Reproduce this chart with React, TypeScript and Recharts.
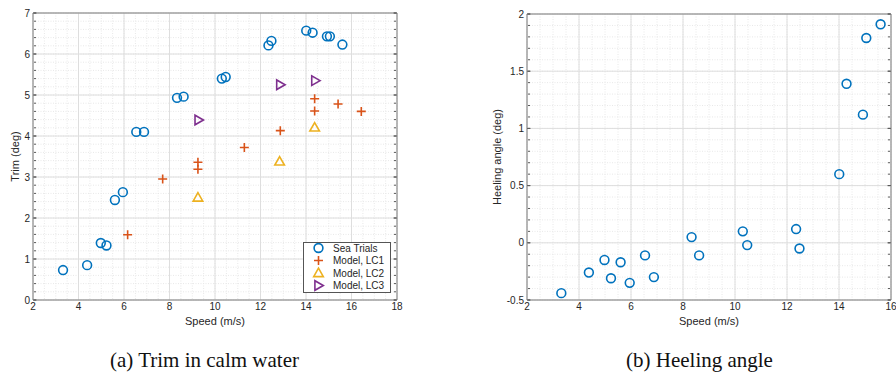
import React from 'react';
import { ScatterChart, Scatter, XAxis, YAxis, CartesianGrid } from 'recharts';

// MATLAB default palette
const BLUE = '#0072BD';
const ORANGE = '#D95319';
const YELLOW = '#EDB120';
const PURPLE = '#7E2F8E';

// sea trial runs (same speeds used in both panels)
const seaSpeed = [3.32, 4.38, 4.98, 5.23, 5.6, 5.95, 6.54, 6.88, 8.33, 8.62, 10.3, 10.47, 12.35, 12.48, 14.01, 14.29, 14.92, 15.05, 15.6];
const seaTrim = [0.73, 0.85, 1.39, 1.33, 2.44, 2.63, 4.1, 4.1, 4.93, 4.96, 5.4, 5.44, 6.21, 6.32, 6.57, 6.52, 6.43, 6.43, 6.23];
const seaHeel = [-0.44, -0.26, -0.15, -0.31, -0.17, -0.35, -0.11, -0.3, 0.05, -0.11, 0.1, -0.02, 0.12, -0.05, 0.6, 1.39, 1.12, 1.79, 1.91];

// model runs, trim only
const lc1Speed = [6.16, 7.7, 9.25, 9.25, 11.29, 12.87, 14.38, 14.38, 15.41, 16.43];
const lc1Trim = [1.59, 2.95, 3.36, 3.19, 3.72, 4.13, 4.91, 4.61, 4.78, 4.6];
const lc2Speed = [9.25, 12.84, 14.38];
const lc2Trim = [2.5, 3.38, 4.21];
const lc3Speed = [9.28, 12.87, 14.41];
const lc3Trim = [4.39, 5.25, 5.35];

// tick labels
const trimXTicks = [2, 4, 6, 8, 10, 12, 14, 16, 18];
const trimYTicks = [0, 1, 2, 3, 4, 5, 6, 7];
const heelXTicks = [2, 4, 6, 8, 10, 12, 14, 16];
const heelYTicks = [-0.5, 0, 0.5, 1, 1.5, 2];

// minor grid positions
const range = (a: number, b: number, d: number) => {
  const out: number[] = [];
  for (let i = 0; a + i * d <= b + 1e-9; i++) out.push(+(a + i * d).toFixed(4));
  return out;
};
const trimXMinor = range(2, 18, 0.5);
const trimYMinor = range(0, 7, 0.2);
const heelXMinor = range(2, 16, 0.5);
const heelYMinor = range(-0.5, 2, 0.1);

const zip = (xs: number[], ys: number[], key: string) => xs.map((x, i) => ({ speed: x, [key]: ys[i] }));

const FONT = '"Liberation Sans", Arial, Helvetica, sans-serif';
const INK = '#262626';
const EDGE = { stroke: '#808080', strokeWidth: 1 };
const TICK = { stroke: '#5a5a5a', strokeWidth: 1 };
const tickFont = { fontSize: 10, fill: INK, fontFamily: FONT };
const titleFont = { fontSize: 11, fill: INK, fontFamily: FONT };
const noLabel = () => <g />;

const Ring = ({ cx, cy }: any) => <circle cx={cx} cy={cy} r={4.4} fill="none" stroke={BLUE} strokeWidth={1.6} />;
const Plus = ({ cx, cy }: any) => (
  <path d={`M${cx - 4.5},${cy}H${cx + 4.5}M${cx},${cy - 4.5}V${cy + 4.5}`} stroke={ORANGE} strokeWidth={1.6} fill="none" />
);
const TriUp = ({ cx, cy }: any) => (
  <path d={`M${cx},${cy - 4.8}L${cx + 4.8},${cy + 3.6}L${cx - 4.8},${cy + 3.6}Z`} stroke={YELLOW} strokeWidth={1.6} fill="none" />
);
const TriRight = ({ cx, cy }: any) => (
  <path d={`M${cx + 4.8},${cy}L${cx - 3.6},${cy + 4.8}L${cx - 3.6},${cy - 4.8}Z`} stroke={PURPLE} strokeWidth={1.6} fill="none" />
);

// inward tick marks on all four sides + top/right box edges, MATLAB style
// (tick={false} stops the axis drawing at all, so labels are replaced by an empty group)
function frameAxes(xDom: number[], yDom: number[], xMaj: number[], xMin: number[], yMaj: number[], yMin: number[]) {
  const base = { type: 'number' as const, allowDataOverflow: true, interval: 0 as const, tick: noLabel, mirror: true, tickLine: TICK };
  return [
    <XAxis key="bM" xAxisId="bM" orientation="bottom" height={1} domain={xDom} ticks={xMaj} tickSize={3.5} axisLine={false} {...base} />,
    <XAxis key="bm" xAxisId="bm" orientation="bottom" height={1} domain={xDom} ticks={xMin} tickSize={2} axisLine={false} {...base} />,
    <XAxis key="tM" xAxisId="tM" orientation="top" height={1} domain={xDom} ticks={xMaj} tickSize={3.5} axisLine={EDGE} {...base} />,
    <XAxis key="tm" xAxisId="tm" orientation="top" height={1} domain={xDom} ticks={xMin} tickSize={2} axisLine={false} {...base} />,
    <YAxis key="lM" yAxisId="lM" orientation="left" width={1} domain={yDom} ticks={yMaj} tickSize={3.5} axisLine={false} {...base} />,
    <YAxis key="lm" yAxisId="lm" orientation="left" width={1} domain={yDom} ticks={yMin} tickSize={2} axisLine={false} {...base} />,
    <YAxis key="rM" yAxisId="rM" orientation="right" width={1} domain={yDom} ticks={yMaj} tickSize={3.5} axisLine={EDGE} {...base} />,
    <YAxis key="rm" yAxisId="rm" orientation="right" width={1} domain={yDom} ticks={yMin} tickSize={2} axisLine={false} {...base} />,
  ];
}

function grids(xMin: number[], yMin: number[]) {
  return [
    <CartesianGrid key="gm" verticalValues={xMin} horizontalValues={yMin} stroke="#e8e8e8" strokeDasharray="1 1.5" />,
    <CartesianGrid key="gM" stroke="#dedede" />,
  ];
}

const legendRows = [
  { label: 'Sea Trials', Mark: Ring },
  { label: 'Model, LC1', Mark: Plus },
  { label: 'Model, LC2', Mark: TriUp },
  { label: 'Model, LC3', Mark: TriRight },
];

const caption: React.CSSProperties = {
  position: 'absolute',
  top: 348,
  fontFamily: '"Liberation Serif", "Times New Roman", serif',
  fontSize: 21,
  lineHeight: '24px',
  color: '#111',
  whiteSpace: 'nowrap',
};

export default function App() {
  return (
    <div style={{ position: 'absolute', left: 0, top: 0, width: 896, height: 374, background: '#fff', overflow: 'hidden' }}>
      <div style={{ position: 'absolute', left: 0, top: 0 }}>
        <ScatterChart width={420} height={330} margin={{ top: 13, right: 23, bottom: 29, left: 32 }}>
          {grids(trimXMinor, trimYMinor)}
          <XAxis dataKey="speed" type="number" domain={[2, 18]} ticks={trimXTicks} interval={0} height={1} tickSize={0} tickMargin={3}
            tickLine={false} axisLine={EDGE} tick={tickFont} allowDataOverflow
            label={{ value: 'Speed (m/s)', position: 'bottom', offset: 16, ...titleFont }} />
          <YAxis dataKey="trim" type="number" domain={[0, 7]} ticks={trimYTicks} interval={0} width={1} tickSize={0} tickMargin={3}
            tickLine={false} axisLine={EDGE} tick={tickFont} allowDataOverflow
            label={{ value: 'Trim (deg)', angle: -90, position: 'left', offset: 17, style: { textAnchor: 'middle' }, ...titleFont }} />
          {frameAxes([2, 18], [0, 7], trimXTicks, trimXMinor, trimYTicks, trimYMinor)}
          <Scatter name="Sea Trials" data={zip(seaSpeed, seaTrim, 'trim')} shape={Ring} isAnimationActive={false} />
          <Scatter name="Model, LC1" data={zip(lc1Speed, lc1Trim, 'trim')} shape={Plus} isAnimationActive={false} />
          <Scatter name="Model, LC2" data={zip(lc2Speed, lc2Trim, 'trim')} shape={TriUp} isAnimationActive={false} />
          <Scatter name="Model, LC3" data={zip(lc3Speed, lc3Trim, 'trim')} shape={TriRight} isAnimationActive={false} />
        </ScatterChart>
      </div>

      <div style={{ position: 'absolute', left: 303, top: 242, width: 86, height: 49, background: '#fff', border: '1px solid #555' }}>
        <svg width={86} height={49} style={{ display: 'block' }}>
          {legendRows.map(({ label, Mark }, i) => (
            <g key={label}>
              <Mark cx={14.5} cy={5 + i * 12.5} />
              <text x={29} y={5 + i * 12.5} dy="0.35em" fontSize={10} fill={INK} fontFamily={FONT}>{label}</text>
            </g>
          ))}
        </svg>
      </div>

      <div style={{ position: 'absolute', left: 450, top: 0 }}>
        <ScatterChart width={446} height={330} margin={{ top: 14, right: 5, bottom: 29, left: 76 }}>
          {grids(heelXMinor, heelYMinor)}
          <XAxis dataKey="speed" type="number" domain={[2, 16]} ticks={heelXTicks} interval={0} height={1} tickSize={0} tickMargin={3}
            tickLine={false} axisLine={EDGE} tick={tickFont} allowDataOverflow
            label={{ value: 'Speed (m/s)', position: 'bottom', offset: 16, ...titleFont }} />
          <YAxis dataKey="heel" type="number" domain={[-0.5, 2]} ticks={heelYTicks} interval={0} width={1} tickSize={0} tickMargin={3}
            tickLine={false} axisLine={EDGE} tick={tickFont} allowDataOverflow
            label={{ value: 'Heeling angle (deg)', angle: -90, position: 'left', offset: 29, style: { textAnchor: 'middle' }, ...titleFont }} />
          {frameAxes([2, 16], [-0.5, 2], heelXTicks, heelXMinor, heelYTicks, heelYMinor)}
          <Scatter name="Sea Trials" data={zip(seaSpeed, seaHeel, 'heel')} shape={Ring} isAnimationActive={false} />
        </ScatterChart>
      </div>

      <div style={{ ...caption, left: 110 }}>(a) Trim in calm water</div>
      <div style={{ ...caption, left: 626 }}>(b) Heeling angle</div>
    </div>
  );
}
